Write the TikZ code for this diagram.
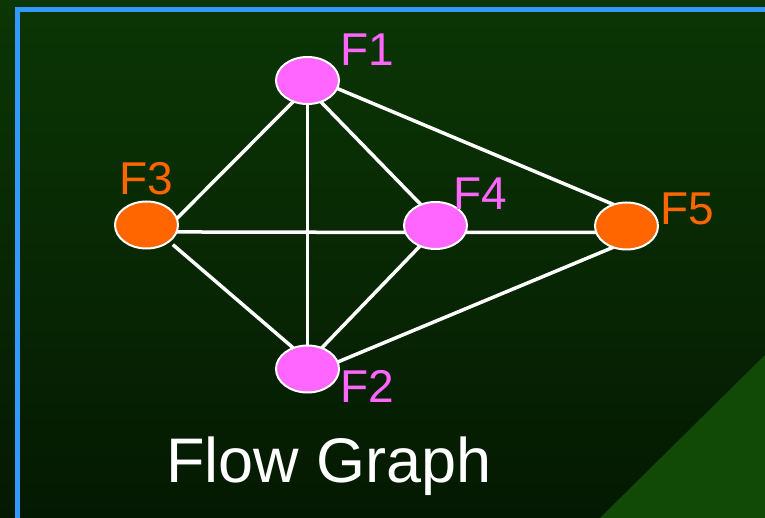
\documentclass[tikz,border=0pt]{standalone}
\usepackage{fontspec}
\setmainfont{Liberation Sans}
\usetikzlibrary{shapes.geometric}
\definecolor{bgtop}{HTML}{0B3605}
\definecolor{bgbot}{HTML}{041902}
\definecolor{tri}{HTML}{114A07}
\definecolor{frame}{HTML}{3399FF}
\definecolor{pinkf}{HTML}{FF66FF}
\definecolor{orangef}{HTML}{FF6600}
\tikzset{
  vert/.style={ellipse, draw=white, line width=2pt, minimum width=63pt, minimum height=47pt, inner sep=0pt, outer sep=0pt},
  pinkv/.style={vert, fill=pinkf},
  orangev/.style={vert, fill=orangef},
  lab/.style={anchor=base west, inner sep=0pt, font=\fontsize{46}{46}\selectfont},
  edge/.style={draw=white, line width=3.5pt}
}
\begin{document}
\begin{tikzpicture}[x=1pt,y=-1pt]
\useasboundingbox (0,0) rectangle (765,518);
\shade[top color=bgtop, bottom color=bgbot] (0,0) rectangle (765,518);
\fill[tri] (765,355) -- (765,518) -- (600,518) -- cycle;
\draw[frame, line width=5pt] (17.5,518) -- (17.5,9.5) -- (765,9.5);
% vertices
\node[pinkv] (F1) at (307.5,80.5) {};
\node[pinkv] (F2) at (307.5,369) {};
\node[orangev] (F3) at (146.5,225) {};
\node[pinkv] (F4) at (435.5,225.5) {};
\node[orangev] (F5) at (626.5,226) {};
% edges
\draw[edge] (F1.236) -- (F3.12);
\draw[edge] (F1.south) -- (F2.north);
\draw[edge] (F1.302) -- (F4.125);
\draw[edge] (F1.-15.6) -- (F5.121);
\draw[edge] (F3.-13.4) -- (F4.193);
\draw[edge] (F4.-13) -- (F5.192);
\draw[edge, shorten <=5pt] (F3.-36) -- (F2.124);
\draw[edge] (F4.233) -- (F2.56);
\draw[edge] (F2.13) -- (F5.238.5);
% labels
\node[lab, text=pinkf] (L1) at (340.5,66) {F1};
\node[lab, text=pinkf] (L2) at (340.5,402) {F2};
\node[lab, text=orangef] (L3) at (119.5,195) {F3};
\node[lab, text=pinkf] (L4) at (453.5,210) {F4};
\node[lab, text=orangef] (L5) at (660.5,225) {F5};
\node[anchor=base west, inner sep=0pt, text=white, font=\fontsize{63}{63}\selectfont] (T) at (166,482) {Flow Graph};
\end{tikzpicture}
\end{document}
